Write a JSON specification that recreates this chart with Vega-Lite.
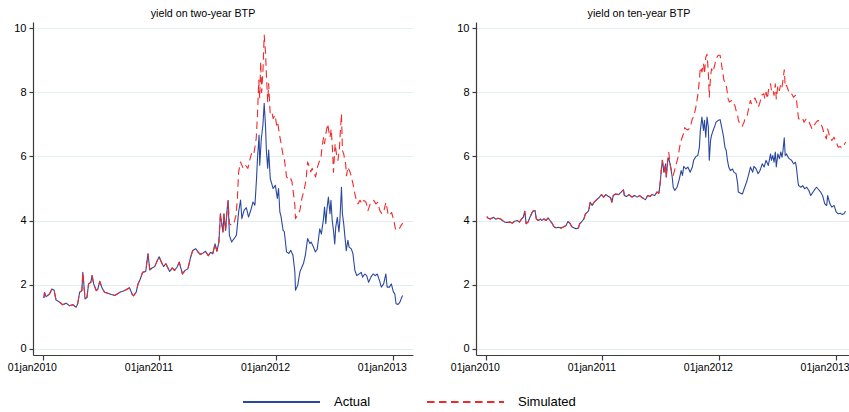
{
  "$schema": "https://vega.github.io/schema/vega-lite/v6.json",
  "background": "white",
  "padding": {"left": 7, "top": 8, "right": 0, "bottom": 0},
  "config": {
    "view": {"stroke": null},
    "font": "Liberation Sans",
    "concat": {"spacing": 37},
    "axis": {"domainColor": "#3c3c3c", "domainWidth": 1.2, "tickColor": "#3c3c3c", "tickWidth": 1.2, "labelColor": "#000000", "labelFont": "Liberation Sans", "title": null},
    "axisY": {"grid": true, "gridColor": "#e4eef0", "gridWidth": 1, "tickSize": 4, "labelPadding": 3, "labelFontSize": 11},
    "axisX": {"grid": false, "tickSize": 5, "labelPadding": 2, "labelFontSize": 10.5, "labelFlush": false, "labelOverlap": false},
    "legend": {"symbolType": "stroke", "symbolSize": 5929, "symbolStrokeWidth": 1.8, "labelFontSize": 13, "labelFont": "Liberation Sans", "labelColor": "#000000", "labelOffset": 13, "columnPadding": 55, "padding": 0, "clipHeight": 16},
    "title": {"fontSize": 10.7, "fontWeight": "normal", "font": "Liberation Sans", "color": "#000000", "offset": 2}
  },
  "datasets": {
    "two": [
      {"d":"2010-01-04","s":"Actual","y":1.58},{"d":"2010-01-06","s":"Actual","y":1.75},{"d":"2010-01-11","s":"Actual","y":1.62},{"d":"2010-01-22","s":"Actual","y":1.71},{"d":"2010-01-29","s":"Actual","y":1.86},{"d":"2010-02-05","s":"Actual","y":1.83},{"d":"2010-02-11","s":"Actual","y":1.52},{"d":"2010-02-22","s":"Actual","y":1.45},{"d":"2010-03-04","s":"Actual","y":1.37},{"d":"2010-03-15","s":"Actual","y":1.42},{"d":"2010-03-25","s":"Actual","y":1.34},{"d":"2010-04-05","s":"Actual","y":1.37},{"d":"2010-04-15","s":"Actual","y":1.29},{"d":"2010-04-20","s":"Actual","y":1.40},{"d":"2010-04-26","s":"Actual","y":1.76},{"d":"2010-05-03","s":"Actual","y":1.81},{"d":"2010-05-06","s":"Actual","y":2.38},{"d":"2010-05-10","s":"Actual","y":1.92},{"d":"2010-05-13","s":"Actual","y":1.55},{"d":"2010-05-19","s":"Actual","y":1.60},{"d":"2010-05-24","s":"Actual","y":2.02},{"d":"2010-05-31","s":"Actual","y":2.07},{"d":"2010-06-04","s":"Actual","y":2.28},{"d":"2010-06-09","s":"Actual","y":2.02},{"d":"2010-06-17","s":"Actual","y":1.81},{"d":"2010-06-22","s":"Actual","y":1.86},{"d":"2010-06-28","s":"Actual","y":2.10},{"d":"2010-07-05","s":"Actual","y":1.90},{"d":"2010-07-13","s":"Actual","y":1.76},{"d":"2010-07-23","s":"Actual","y":1.73},{"d":"2010-08-03","s":"Actual","y":1.69},{"d":"2010-08-13","s":"Actual","y":1.66},{"d":"2010-08-23","s":"Actual","y":1.71},{"d":"2010-08-30","s":"Actual","y":1.76},{"d":"2010-09-08","s":"Actual","y":1.79},{"d":"2010-09-17","s":"Actual","y":1.83},{"d":"2010-09-29","s":"Actual","y":1.90},{"d":"2010-10-08","s":"Actual","y":1.69},{"d":"2010-10-12","s":"Actual","y":1.65},{"d":"2010-10-20","s":"Actual","y":1.76},{"d":"2010-10-26","s":"Actual","y":2.02},{"d":"2010-11-02","s":"Actual","y":2.17},{"d":"2010-11-09","s":"Actual","y":2.38},{"d":"2010-11-19","s":"Actual","y":2.41},{"d":"2010-11-26","s":"Actual","y":2.96},{"d":"2010-12-02","s":"Actual","y":2.46},{"d":"2010-12-09","s":"Actual","y":2.52},{"d":"2010-12-17","s":"Actual","y":2.56},{"d":"2010-12-23","s":"Actual","y":2.70},{"d":"2010-12-31","s":"Actual","y":2.87},{"d":"2011-01-07","s":"Actual","y":2.70},{"d":"2011-01-14","s":"Actual","y":2.56},{"d":"2011-01-21","s":"Actual","y":2.65},{"d":"2011-02-02","s":"Actual","y":2.41},{"d":"2011-02-10","s":"Actual","y":2.52},{"d":"2011-02-17","s":"Actual","y":2.44},{"d":"2011-02-25","s":"Actual","y":2.54},{"d":"2011-03-04","s":"Actual","y":2.70},{"d":"2011-03-14","s":"Actual","y":2.33},{"d":"2011-03-22","s":"Actual","y":2.44},{"d":"2011-03-31","s":"Actual","y":2.49},{"d":"2011-04-08","s":"Actual","y":2.83},{"d":"2011-04-15","s":"Actual","y":3.06},{"d":"2011-04-25","s":"Actual","y":3.12},{"d":"2011-05-02","s":"Actual","y":3.01},{"d":"2011-05-09","s":"Actual","y":2.94},{"d":"2011-05-17","s":"Actual","y":2.98},{"d":"2011-05-25","s":"Actual","y":3.04},{"d":"2011-06-03","s":"Actual","y":2.90},{"d":"2011-06-10","s":"Actual","y":3.01},{"d":"2011-06-17","s":"Actual","y":2.96},{"d":"2011-06-24","s":"Actual","y":3.27},{"d":"2011-06-30","s":"Actual","y":3.04},{"d":"2011-07-06","s":"Actual","y":3.32},{"d":"2011-07-11","s":"Actual","y":4.21},{"d":"2011-07-15","s":"Actual","y":3.90},{"d":"2011-07-19","s":"Actual","y":3.64},{"d":"2011-07-22","s":"Actual","y":4.21},{"d":"2011-07-27","s":"Actual","y":3.69},{"d":"2011-08-01","s":"Actual","y":4.36},{"d":"2011-08-04","s":"Actual","y":4.62},
      {"d":"2011-08-08","s":"Actual","y":3.54},{"d":"2011-08-15","s":"Actual","y":3.33},{"d":"2011-08-23","s":"Actual","y":3.44},{"d":"2011-08-30","s":"Actual","y":3.54},{"d":"2011-09-06","s":"Actual","y":4.27},{"d":"2011-09-12","s":"Actual","y":4.64},{"d":"2011-09-16","s":"Actual","y":4.06},{"d":"2011-09-23","s":"Actual","y":4.32},{"d":"2011-09-30","s":"Actual","y":4.40},{"d":"2011-10-07","s":"Actual","y":4.11},{"d":"2011-10-14","s":"Actual","y":4.32},{"d":"2011-10-21","s":"Actual","y":4.58},{"d":"2011-10-27","s":"Actual","y":4.48},{"d":"2011-11-01","s":"Actual","y":5.31},{"d":"2011-11-04","s":"Actual","y":5.94},{"d":"2011-11-09","s":"Actual","y":6.67},{"d":"2011-11-11","s":"Actual","y":5.73},{"d":"2011-11-16","s":"Actual","y":6.56},{"d":"2011-11-21","s":"Actual","y":6.98},{"d":"2011-11-25","s":"Actual","y":7.66},{"d":"2011-11-29","s":"Actual","y":6.98},{"d":"2011-12-02","s":"Actual","y":6.15},{"d":"2011-12-06","s":"Actual","y":5.63},{"d":"2011-12-09","s":"Actual","y":6.20},{"d":"2011-12-14","s":"Actual","y":5.31},{"d":"2011-12-20","s":"Actual","y":5.10},{"d":"2011-12-23","s":"Actual","y":5.00},{"d":"2011-12-30","s":"Actual","y":5.10},{"d":"2012-01-05","s":"Actual","y":4.69},{"d":"2012-01-09","s":"Actual","y":5.00},{"d":"2012-01-13","s":"Actual","y":4.27},{"d":"2012-01-17","s":"Actual","y":4.11},{"d":"2012-01-23","s":"Actual","y":3.70},{"d":"2012-01-27","s":"Actual","y":3.65},{"d":"2012-02-03","s":"Actual","y":3.02},{"d":"2012-02-10","s":"Actual","y":2.97},{"d":"2012-02-16","s":"Actual","y":3.07},{"d":"2012-02-23","s":"Actual","y":2.92},{"d":"2012-02-29","s":"Actual","y":2.40},{"d":"2012-03-02","s":"Actual","y":1.82},{"d":"2012-03-09","s":"Actual","y":1.98},{"d":"2012-03-16","s":"Actual","y":2.40},{"d":"2012-03-27","s":"Actual","y":2.66},{"d":"2012-04-02","s":"Actual","y":2.92},{"d":"2012-04-09","s":"Actual","y":3.44},{"d":"2012-04-16","s":"Actual","y":3.28},{"d":"2012-04-20","s":"Actual","y":3.33},{"d":"2012-04-27","s":"Actual","y":3.18},{"d":"2012-05-03","s":"Actual","y":3.02},{"d":"2012-05-09","s":"Actual","y":3.10},{"d":"2012-05-17","s":"Actual","y":3.74},{"d":"2012-05-22","s":"Actual","y":3.58},{"d":"2012-05-28","s":"Actual","y":4.00},{"d":"2012-06-01","s":"Actual","y":4.42},{"d":"2012-06-05","s":"Actual","y":3.90},{"d":"2012-06-08","s":"Actual","y":4.31},{"d":"2012-06-13","s":"Actual","y":4.73},{"d":"2012-06-18","s":"Actual","y":4.21},{"d":"2012-06-21","s":"Actual","y":4.63},{"d":"2012-06-25","s":"Actual","y":4.00},{"d":"2012-06-29","s":"Actual","y":3.69},{"d":"2012-07-03","s":"Actual","y":3.27},{"d":"2012-07-06","s":"Actual","y":3.79},{"d":"2012-07-11","s":"Actual","y":4.10},{"d":"2012-07-16","s":"Actual","y":3.64},{"d":"2012-07-19","s":"Actual","y":4.00},{"d":"2012-07-24","s":"Actual","y":5.04},{"d":"2012-07-27","s":"Actual","y":4.21},{"d":"2012-07-31","s":"Actual","y":3.90},{"d":"2012-08-03","s":"Actual","y":3.58},{"d":"2012-08-08","s":"Actual","y":3.06},{"d":"2012-08-13","s":"Actual","y":3.38},{"d":"2012-08-17","s":"Actual","y":3.17},{"d":"2012-08-24","s":"Actual","y":3.11},{"d":"2012-08-29","s":"Actual","y":2.96},{"d":"2012-09-04","s":"Actual","y":2.44},{"d":"2012-09-10","s":"Actual","y":2.28},{"d":"2012-09-17","s":"Actual","y":2.33},{"d":"2012-09-24","s":"Actual","y":2.38},{"d":"2012-09-28","s":"Actual","y":2.23},{"d":"2012-10-05","s":"Actual","y":2.33},{"d":"2012-10-11","s":"Actual","y":2.28},{"d":"2012-10-17","s":"Actual","y":2.07},{"d":"2012-10-24","s":"Actual","y":2.23},{"d":"2012-10-31","s":"Actual","y":2.33},{"d":"2012-11-07","s":"Actual","y":2.28},{"d":"2012-11-13","s":"Actual","y":2.33},{"d":"2012-11-20","s":"Actual","y":2.13},{"d":"2012-11-26","s":"Actual","y":1.92},{"d":"2012-12-03","s":"Actual","y":2.02},{"d":"2012-12-10","s":"Actual","y":2.33},{"d":"2012-12-14","s":"Actual","y":1.92},{"d":"2012-12-21","s":"Actual","y":1.92},{"d":"2012-12-27","s":"Actual","y":2.02},{"d":"2013-01-03","s":"Actual","y":1.76},{"d":"2013-01-07","s":"Actual","y":1.71},{"d":"2013-01-11","s":"Actual","y":1.40},{"d":"2013-01-17","s":"Actual","y":1.38},{"d":"2013-01-23","s":"Actual","y":1.45},{"d":"2013-01-29","s":"Actual","y":1.61},{"d":"2013-02-01","s":"Actual","y":1.66},
      {"d":"2010-01-04","s":"Simulated","y":1.58},{"d":"2010-01-06","s":"Simulated","y":1.75},{"d":"2010-01-11","s":"Simulated","y":1.62},{"d":"2010-01-22","s":"Simulated","y":1.71},{"d":"2010-01-29","s":"Simulated","y":1.86},{"d":"2010-02-05","s":"Simulated","y":1.83},{"d":"2010-02-11","s":"Simulated","y":1.52},{"d":"2010-02-22","s":"Simulated","y":1.45},{"d":"2010-03-04","s":"Simulated","y":1.37},{"d":"2010-03-15","s":"Simulated","y":1.42},{"d":"2010-03-25","s":"Simulated","y":1.34},{"d":"2010-04-05","s":"Simulated","y":1.37},{"d":"2010-04-15","s":"Simulated","y":1.29},{"d":"2010-04-20","s":"Simulated","y":1.40},{"d":"2010-04-26","s":"Simulated","y":1.76},{"d":"2010-05-03","s":"Simulated","y":1.81},{"d":"2010-05-06","s":"Simulated","y":2.38},{"d":"2010-05-10","s":"Simulated","y":1.92},{"d":"2010-05-13","s":"Simulated","y":1.55},{"d":"2010-05-19","s":"Simulated","y":1.60},{"d":"2010-05-24","s":"Simulated","y":2.02},{"d":"2010-05-31","s":"Simulated","y":2.07},{"d":"2010-06-04","s":"Simulated","y":2.28},{"d":"2010-06-09","s":"Simulated","y":2.02},{"d":"2010-06-17","s":"Simulated","y":1.81},{"d":"2010-06-22","s":"Simulated","y":1.86},{"d":"2010-06-28","s":"Simulated","y":2.10},{"d":"2010-07-05","s":"Simulated","y":1.90},{"d":"2010-07-13","s":"Simulated","y":1.76},{"d":"2010-07-23","s":"Simulated","y":1.73},{"d":"2010-08-03","s":"Simulated","y":1.69},{"d":"2010-08-13","s":"Simulated","y":1.66},{"d":"2010-08-23","s":"Simulated","y":1.71},{"d":"2010-08-30","s":"Simulated","y":1.76},{"d":"2010-09-08","s":"Simulated","y":1.79},{"d":"2010-09-17","s":"Simulated","y":1.83},{"d":"2010-09-29","s":"Simulated","y":1.90},{"d":"2010-10-08","s":"Simulated","y":1.69},{"d":"2010-10-12","s":"Simulated","y":1.65},{"d":"2010-10-20","s":"Simulated","y":1.76},{"d":"2010-10-26","s":"Simulated","y":2.02},{"d":"2010-11-02","s":"Simulated","y":2.17},{"d":"2010-11-09","s":"Simulated","y":2.38},{"d":"2010-11-19","s":"Simulated","y":2.41},{"d":"2010-11-26","s":"Simulated","y":2.96},{"d":"2010-12-02","s":"Simulated","y":2.46},{"d":"2010-12-09","s":"Simulated","y":2.52},{"d":"2010-12-17","s":"Simulated","y":2.56},{"d":"2010-12-23","s":"Simulated","y":2.70},{"d":"2010-12-31","s":"Simulated","y":2.87},{"d":"2011-01-07","s":"Simulated","y":2.70},{"d":"2011-01-14","s":"Simulated","y":2.56},{"d":"2011-01-21","s":"Simulated","y":2.65},{"d":"2011-02-02","s":"Simulated","y":2.41},{"d":"2011-02-10","s":"Simulated","y":2.52},{"d":"2011-02-17","s":"Simulated","y":2.44},{"d":"2011-02-25","s":"Simulated","y":2.54},{"d":"2011-03-04","s":"Simulated","y":2.70},{"d":"2011-03-14","s":"Simulated","y":2.33},{"d":"2011-03-22","s":"Simulated","y":2.44},{"d":"2011-03-31","s":"Simulated","y":2.49},{"d":"2011-04-08","s":"Simulated","y":2.83},{"d":"2011-04-15","s":"Simulated","y":3.06},{"d":"2011-04-25","s":"Simulated","y":3.12},{"d":"2011-05-02","s":"Simulated","y":3.01},{"d":"2011-05-09","s":"Simulated","y":2.94},{"d":"2011-05-17","s":"Simulated","y":2.98},{"d":"2011-05-25","s":"Simulated","y":3.04},{"d":"2011-06-03","s":"Simulated","y":2.90},{"d":"2011-06-10","s":"Simulated","y":3.01},{"d":"2011-06-17","s":"Simulated","y":2.96},{"d":"2011-06-24","s":"Simulated","y":3.27},{"d":"2011-06-30","s":"Simulated","y":3.04},{"d":"2011-07-06","s":"Simulated","y":3.32},{"d":"2011-07-11","s":"Simulated","y":4.21},{"d":"2011-07-15","s":"Simulated","y":3.90},{"d":"2011-07-19","s":"Simulated","y":3.64},{"d":"2011-07-22","s":"Simulated","y":4.21},{"d":"2011-07-27","s":"Simulated","y":3.69},{"d":"2011-08-01","s":"Simulated","y":4.36},{"d":"2011-08-04","s":"Simulated","y":4.62},
      {"d":"2011-08-08","s":"Simulated","y":3.90},{"d":"2011-08-15","s":"Simulated","y":3.85},{"d":"2011-08-22","s":"Simulated","y":3.90},{"d":"2011-08-29","s":"Simulated","y":4.17},{"d":"2011-09-02","s":"Simulated","y":4.69},{"d":"2011-09-06","s":"Simulated","y":5.52},{"d":"2011-09-12","s":"Simulated","y":5.83},{"d":"2011-09-20","s":"Simulated","y":5.63},{"d":"2011-09-27","s":"Simulated","y":5.73},{"d":"2011-10-05","s":"Simulated","y":5.63},{"d":"2011-10-12","s":"Simulated","y":5.94},{"d":"2011-10-18","s":"Simulated","y":6.15},{"d":"2011-10-24","s":"Simulated","y":6.10},{"d":"2011-10-31","s":"Simulated","y":6.56},{"d":"2011-11-04","s":"Simulated","y":7.29},{"d":"2011-11-08","s":"Simulated","y":8.39},{"d":"2011-11-11","s":"Simulated","y":7.81},{"d":"2011-11-14","s":"Simulated","y":8.96},{"d":"2011-11-17","s":"Simulated","y":8.00},{"d":"2011-11-21","s":"Simulated","y":8.65},{"d":"2011-11-25","s":"Simulated","y":9.79},{"d":"2011-11-29","s":"Simulated","y":9.27},{"d":"2011-12-02","s":"Simulated","y":8.54},{"d":"2011-12-06","s":"Simulated","y":7.71},{"d":"2011-12-09","s":"Simulated","y":8.28},{"d":"2011-12-14","s":"Simulated","y":7.29},{"d":"2011-12-20","s":"Simulated","y":7.34},{"d":"2011-12-23","s":"Simulated","y":7.19},{"d":"2011-12-29","s":"Simulated","y":7.29},{"d":"2012-01-03","s":"Simulated","y":6.98},{"d":"2012-01-06","s":"Simulated","y":7.08},{"d":"2012-01-12","s":"Simulated","y":6.67},{"d":"2012-01-17","s":"Simulated","y":6.41},{"d":"2012-01-23","s":"Simulated","y":6.04},{"d":"2012-01-27","s":"Simulated","y":5.94},{"d":"2012-02-03","s":"Simulated","y":5.36},{"d":"2012-02-08","s":"Simulated","y":5.31},{"d":"2012-02-14","s":"Simulated","y":5.36},{"d":"2012-02-20","s":"Simulated","y":5.21},{"d":"2012-02-24","s":"Simulated","y":4.90},{"d":"2012-02-29","s":"Simulated","y":4.48},{"d":"2012-03-02","s":"Simulated","y":4.06},{"d":"2012-03-09","s":"Simulated","y":4.17},{"d":"2012-03-16","s":"Simulated","y":4.32},{"d":"2012-03-22","s":"Simulated","y":4.69},{"d":"2012-03-29","s":"Simulated","y":4.95},{"d":"2012-04-04","s":"Simulated","y":5.26},{"d":"2012-04-09","s":"Simulated","y":5.83},{"d":"2012-04-16","s":"Simulated","y":5.63},{"d":"2012-04-19","s":"Simulated","y":5.52},{"d":"2012-04-23","s":"Simulated","y":5.63},{"d":"2012-04-30","s":"Simulated","y":5.47},{"d":"2012-05-04","s":"Simulated","y":5.36},{"d":"2012-05-10","s":"Simulated","y":5.67},{"d":"2012-05-15","s":"Simulated","y":5.83},{"d":"2012-05-21","s":"Simulated","y":5.98},{"d":"2012-05-24","s":"Simulated","y":6.29},{"d":"2012-05-29","s":"Simulated","y":6.60},{"d":"2012-06-01","s":"Simulated","y":6.40},{"d":"2012-06-06","s":"Simulated","y":6.76},{"d":"2012-06-11","s":"Simulated","y":7.02},{"d":"2012-06-14","s":"Simulated","y":6.81},{"d":"2012-06-18","s":"Simulated","y":6.60},{"d":"2012-06-22","s":"Simulated","y":6.86},{"d":"2012-06-26","s":"Simulated","y":6.19},{"d":"2012-06-29","s":"Simulated","y":5.51},{"d":"2012-07-04","s":"Simulated","y":6.40},{"d":"2012-07-09","s":"Simulated","y":6.03},{"d":"2012-07-13","s":"Simulated","y":5.88},{"d":"2012-07-18","s":"Simulated","y":6.29},{"d":"2012-07-20","s":"Simulated","y":6.71},{"d":"2012-07-24","s":"Simulated","y":7.33},{"d":"2012-07-27","s":"Simulated","y":6.19},{"d":"2012-07-31","s":"Simulated","y":6.08},{"d":"2012-08-06","s":"Simulated","y":5.77},{"d":"2012-08-09","s":"Simulated","y":5.40},{"d":"2012-08-13","s":"Simulated","y":5.67},{"d":"2012-08-20","s":"Simulated","y":5.51},{"d":"2012-08-24","s":"Simulated","y":5.36},{"d":"2012-08-29","s":"Simulated","y":5.15},{"d":"2012-09-04","s":"Simulated","y":4.83},{"d":"2012-09-10","s":"Simulated","y":4.57},{"d":"2012-09-14","s":"Simulated","y":4.52},{"d":"2012-09-20","s":"Simulated","y":4.63},{"d":"2012-09-26","s":"Simulated","y":4.52},{"d":"2012-10-02","s":"Simulated","y":4.63},{"d":"2012-10-09","s":"Simulated","y":4.57},{"d":"2012-10-15","s":"Simulated","y":4.31},{"d":"2012-10-22","s":"Simulated","y":4.52},{"d":"2012-10-29","s":"Simulated","y":4.57},{"d":"2012-11-02","s":"Simulated","y":4.63},{"d":"2012-11-09","s":"Simulated","y":4.52},{"d":"2012-11-15","s":"Simulated","y":4.57},{"d":"2012-11-21","s":"Simulated","y":4.31},{"d":"2012-11-28","s":"Simulated","y":4.21},{"d":"2012-12-04","s":"Simulated","y":4.31},{"d":"2012-12-10","s":"Simulated","y":4.57},{"d":"2012-12-17","s":"Simulated","y":4.21},{"d":"2012-12-21","s":"Simulated","y":4.15},{"d":"2012-12-28","s":"Simulated","y":4.25},{"d":"2013-01-04","s":"Simulated","y":4.00},{"d":"2013-01-09","s":"Simulated","y":3.74},{"d":"2013-01-15","s":"Simulated","y":3.69},{"d":"2013-01-21","s":"Simulated","y":3.74},{"d":"2013-01-27","s":"Simulated","y":3.85},{"d":"2013-02-01","s":"Simulated","y":3.92}
    ],
    "ten": [
      {"d":"2010-01-04","s":"Actual","y":4.12},{"d":"2010-01-08","s":"Actual","y":4.07},{"d":"2010-01-15","s":"Actual","y":4.05},{"d":"2010-01-25","s":"Actual","y":4.10},{"d":"2010-02-01","s":"Actual","y":4.04},{"d":"2010-02-08","s":"Actual","y":4.07},{"d":"2010-02-16","s":"Actual","y":4.05},{"d":"2010-02-22","s":"Actual","y":4.00},{"d":"2010-03-01","s":"Actual","y":3.95},{"d":"2010-03-09","s":"Actual","y":3.94},{"d":"2010-03-17","s":"Actual","y":3.95},{"d":"2010-03-25","s":"Actual","y":3.92},{"d":"2010-04-01","s":"Actual","y":3.98},{"d":"2010-04-09","s":"Actual","y":4.00},{"d":"2010-04-16","s":"Actual","y":3.95},{"d":"2010-04-23","s":"Actual","y":4.05},{"d":"2010-04-28","s":"Actual","y":4.10},{"d":"2010-05-03","s":"Actual","y":4.29},{"d":"2010-05-07","s":"Actual","y":3.90},{"d":"2010-05-13","s":"Actual","y":3.95},{"d":"2010-05-19","s":"Actual","y":4.10},{"d":"2010-05-24","s":"Actual","y":4.21},{"d":"2010-05-28","s":"Actual","y":4.29},{"d":"2010-06-04","s":"Actual","y":4.31},{"d":"2010-06-08","s":"Actual","y":4.05},{"d":"2010-06-14","s":"Actual","y":4.00},{"d":"2010-06-21","s":"Actual","y":4.05},{"d":"2010-06-25","s":"Actual","y":4.00},{"d":"2010-07-02","s":"Actual","y":4.05},{"d":"2010-07-08","s":"Actual","y":4.00},{"d":"2010-07-15","s":"Actual","y":4.08},{"d":"2010-07-21","s":"Actual","y":4.00},{"d":"2010-07-27","s":"Actual","y":3.92},{"d":"2010-08-02","s":"Actual","y":3.81},{"d":"2010-08-09","s":"Actual","y":3.77},{"d":"2010-08-16","s":"Actual","y":3.79},{"d":"2010-08-23","s":"Actual","y":3.77},{"d":"2010-08-27","s":"Actual","y":3.77},{"d":"2010-09-03","s":"Actual","y":3.81},{"d":"2010-09-09","s":"Actual","y":3.84},{"d":"2010-09-15","s":"Actual","y":3.97},{"d":"2010-09-21","s":"Actual","y":3.92},{"d":"2010-09-27","s":"Actual","y":3.81},{"d":"2010-10-04","s":"Actual","y":3.77},{"d":"2010-10-11","s":"Actual","y":3.74},{"d":"2010-10-18","s":"Actual","y":3.77},{"d":"2010-10-22","s":"Actual","y":3.90},{"d":"2010-10-29","s":"Actual","y":3.97},{"d":"2010-11-04","s":"Actual","y":4.05},{"d":"2010-11-09","s":"Actual","y":4.21},{"d":"2010-11-15","s":"Actual","y":4.26},{"d":"2010-11-19","s":"Actual","y":4.31},{"d":"2010-11-24","s":"Actual","y":4.57},{"d":"2010-11-30","s":"Actual","y":4.47},{"d":"2010-12-06","s":"Actual","y":4.57},{"d":"2010-12-14","s":"Actual","y":4.65},{"d":"2010-12-21","s":"Actual","y":4.71},{"d":"2010-12-29","s":"Actual","y":4.81},{"d":"2011-01-05","s":"Actual","y":4.73},{"d":"2011-01-12","s":"Actual","y":4.81},{"d":"2011-01-20","s":"Actual","y":4.75},{"d":"2011-01-27","s":"Actual","y":4.71},{"d":"2011-01-31","s":"Actual","y":4.57},{"d":"2011-02-04","s":"Actual","y":4.78},{"d":"2011-02-11","s":"Actual","y":4.83},{"d":"2011-02-21","s":"Actual","y":4.81},{"d":"2011-03-01","s":"Actual","y":4.89},{"d":"2011-03-08","s":"Actual","y":4.96},{"d":"2011-03-11","s":"Actual","y":4.78},{"d":"2011-03-18","s":"Actual","y":4.75},{"d":"2011-03-25","s":"Actual","y":4.81},{"d":"2011-04-04","s":"Actual","y":4.73},{"d":"2011-04-12","s":"Actual","y":4.78},{"d":"2011-04-20","s":"Actual","y":4.73},{"d":"2011-04-28","s":"Actual","y":4.78},{"d":"2011-05-06","s":"Actual","y":4.71},{"d":"2011-05-16","s":"Actual","y":4.65},{"d":"2011-05-23","s":"Actual","y":4.78},{"d":"2011-05-30","s":"Actual","y":4.75},{"d":"2011-06-06","s":"Actual","y":4.81},{"d":"2011-06-14","s":"Actual","y":4.78},{"d":"2011-06-21","s":"Actual","y":4.89},{"d":"2011-06-27","s":"Actual","y":4.85},{"d":"2011-07-01","s":"Actual","y":5.15},{"d":"2011-07-05","s":"Actual","y":5.61},{"d":"2011-07-08","s":"Actual","y":5.88},{"d":"2011-07-13","s":"Actual","y":5.51},{"d":"2011-07-18","s":"Actual","y":5.77},{"d":"2011-07-20","s":"Actual","y":5.35},{"d":"2011-07-25","s":"Actual","y":5.88},{"d":"2011-07-28","s":"Actual","y":5.95},{"d":"2011-08-02","s":"Actual","y":5.72},
      {"d":"2011-08-08","s":"Actual","y":5.35},{"d":"2011-08-11","s":"Actual","y":5.04},{"d":"2011-08-16","s":"Actual","y":4.94},{"d":"2011-08-23","s":"Actual","y":5.04},{"d":"2011-08-29","s":"Actual","y":5.25},{"d":"2011-09-05","s":"Actual","y":5.56},{"d":"2011-09-09","s":"Actual","y":5.41},{"d":"2011-09-13","s":"Actual","y":5.69},{"d":"2011-09-20","s":"Actual","y":5.61},{"d":"2011-09-26","s":"Actual","y":5.67},{"d":"2011-10-03","s":"Actual","y":5.51},{"d":"2011-10-10","s":"Actual","y":5.67},{"d":"2011-10-14","s":"Actual","y":5.88},{"d":"2011-10-21","s":"Actual","y":6.00},{"d":"2011-10-27","s":"Actual","y":6.03},{"d":"2011-11-01","s":"Actual","y":6.29},{"d":"2011-11-04","s":"Actual","y":6.81},{"d":"2011-11-09","s":"Actual","y":7.23},{"d":"2011-11-14","s":"Actual","y":6.81},{"d":"2011-11-17","s":"Actual","y":7.13},{"d":"2011-11-21","s":"Actual","y":6.60},{"d":"2011-11-25","s":"Actual","y":7.23},{"d":"2011-11-29","s":"Actual","y":6.92},{"d":"2011-12-02","s":"Actual","y":5.88},{"d":"2011-12-06","s":"Actual","y":6.50},{"d":"2011-12-09","s":"Actual","y":6.66},{"d":"2011-12-14","s":"Actual","y":6.81},{"d":"2011-12-20","s":"Actual","y":6.97},{"d":"2011-12-23","s":"Actual","y":7.07},{"d":"2011-12-30","s":"Actual","y":7.13},{"d":"2012-01-05","s":"Actual","y":7.15},{"d":"2012-01-12","s":"Actual","y":6.81},{"d":"2012-01-16","s":"Actual","y":6.60},{"d":"2012-01-20","s":"Actual","y":6.29},{"d":"2012-01-24","s":"Actual","y":6.19},{"d":"2012-01-28","s":"Actual","y":5.88},{"d":"2012-02-01","s":"Actual","y":5.67},{"d":"2012-02-06","s":"Actual","y":5.56},{"d":"2012-02-13","s":"Actual","y":5.61},{"d":"2012-02-17","s":"Actual","y":5.51},{"d":"2012-02-24","s":"Actual","y":5.46},{"d":"2012-02-29","s":"Actual","y":5.15},{"d":"2012-03-02","s":"Actual","y":4.89},{"d":"2012-03-09","s":"Actual","y":4.85},{"d":"2012-03-15","s":"Actual","y":4.83},{"d":"2012-03-22","s":"Actual","y":5.04},{"d":"2012-03-28","s":"Actual","y":5.20},{"d":"2012-04-04","s":"Actual","y":5.46},{"d":"2012-04-09","s":"Actual","y":5.67},{"d":"2012-04-16","s":"Actual","y":5.51},{"d":"2012-04-20","s":"Actual","y":5.69},{"d":"2012-04-27","s":"Actual","y":5.61},{"d":"2012-05-03","s":"Actual","y":5.46},{"d":"2012-05-09","s":"Actual","y":5.56},{"d":"2012-05-16","s":"Actual","y":5.77},{"d":"2012-05-22","s":"Actual","y":5.67},{"d":"2012-05-28","s":"Actual","y":5.88},{"d":"2012-06-04","s":"Actual","y":5.72},{"d":"2012-06-11","s":"Actual","y":6.08},{"d":"2012-06-14","s":"Actual","y":5.88},{"d":"2012-06-18","s":"Actual","y":6.03},{"d":"2012-06-22","s":"Actual","y":5.82},{"d":"2012-06-26","s":"Actual","y":6.14},{"d":"2012-06-29","s":"Actual","y":5.67},{"d":"2012-07-04","s":"Actual","y":6.08},{"d":"2012-07-09","s":"Actual","y":5.93},{"d":"2012-07-13","s":"Actual","y":6.14},{"d":"2012-07-17","s":"Actual","y":5.98},{"d":"2012-07-20","s":"Actual","y":6.19},{"d":"2012-07-24","s":"Actual","y":6.58},{"d":"2012-07-27","s":"Actual","y":6.03},{"d":"2012-07-31","s":"Actual","y":6.08},{"d":"2012-08-06","s":"Actual","y":5.96},{"d":"2012-08-09","s":"Actual","y":5.93},{"d":"2012-08-16","s":"Actual","y":5.88},{"d":"2012-08-22","s":"Actual","y":5.77},{"d":"2012-08-28","s":"Actual","y":5.82},{"d":"2012-08-31","s":"Actual","y":5.67},{"d":"2012-09-05","s":"Actual","y":5.20},{"d":"2012-09-07","s":"Actual","y":5.09},{"d":"2012-09-14","s":"Actual","y":5.04},{"d":"2012-09-20","s":"Actual","y":5.09},{"d":"2012-09-26","s":"Actual","y":4.99},{"d":"2012-10-02","s":"Actual","y":5.04},{"d":"2012-10-09","s":"Actual","y":4.94},{"d":"2012-10-15","s":"Actual","y":4.78},{"d":"2012-10-22","s":"Actual","y":4.89},{"d":"2012-10-29","s":"Actual","y":4.99},{"d":"2012-11-02","s":"Actual","y":5.04},{"d":"2012-11-09","s":"Actual","y":4.96},{"d":"2012-11-15","s":"Actual","y":4.89},{"d":"2012-11-21","s":"Actual","y":4.78},{"d":"2012-11-28","s":"Actual","y":4.52},{"d":"2012-12-04","s":"Actual","y":4.47},{"d":"2012-12-07","s":"Actual","y":4.78},{"d":"2012-12-14","s":"Actual","y":4.52},{"d":"2012-12-20","s":"Actual","y":4.42},{"d":"2012-12-27","s":"Actual","y":4.47},{"d":"2013-01-03","s":"Actual","y":4.26},{"d":"2013-01-09","s":"Actual","y":4.21},{"d":"2013-01-15","s":"Actual","y":4.23},{"d":"2013-01-21","s":"Actual","y":4.19},{"d":"2013-01-27","s":"Actual","y":4.21},{"d":"2013-02-01","s":"Actual","y":4.29},
      {"d":"2010-01-04","s":"Simulated","y":4.12},{"d":"2010-01-08","s":"Simulated","y":4.07},{"d":"2010-01-15","s":"Simulated","y":4.05},{"d":"2010-01-25","s":"Simulated","y":4.10},{"d":"2010-02-01","s":"Simulated","y":4.04},{"d":"2010-02-08","s":"Simulated","y":4.07},{"d":"2010-02-16","s":"Simulated","y":4.05},{"d":"2010-02-22","s":"Simulated","y":4.00},{"d":"2010-03-01","s":"Simulated","y":3.95},{"d":"2010-03-09","s":"Simulated","y":3.94},{"d":"2010-03-17","s":"Simulated","y":3.95},{"d":"2010-03-25","s":"Simulated","y":3.92},{"d":"2010-04-01","s":"Simulated","y":3.98},{"d":"2010-04-09","s":"Simulated","y":4.00},{"d":"2010-04-16","s":"Simulated","y":3.95},{"d":"2010-04-23","s":"Simulated","y":4.05},{"d":"2010-04-28","s":"Simulated","y":4.10},{"d":"2010-05-03","s":"Simulated","y":4.29},{"d":"2010-05-07","s":"Simulated","y":3.90},{"d":"2010-05-13","s":"Simulated","y":3.95},{"d":"2010-05-19","s":"Simulated","y":4.10},{"d":"2010-05-24","s":"Simulated","y":4.21},{"d":"2010-05-28","s":"Simulated","y":4.29},{"d":"2010-06-04","s":"Simulated","y":4.31},{"d":"2010-06-08","s":"Simulated","y":4.05},{"d":"2010-06-14","s":"Simulated","y":4.00},{"d":"2010-06-21","s":"Simulated","y":4.05},{"d":"2010-06-25","s":"Simulated","y":4.00},{"d":"2010-07-02","s":"Simulated","y":4.05},{"d":"2010-07-08","s":"Simulated","y":4.00},{"d":"2010-07-15","s":"Simulated","y":4.08},{"d":"2010-07-21","s":"Simulated","y":4.00},{"d":"2010-07-27","s":"Simulated","y":3.92},{"d":"2010-08-02","s":"Simulated","y":3.81},{"d":"2010-08-09","s":"Simulated","y":3.77},{"d":"2010-08-16","s":"Simulated","y":3.79},{"d":"2010-08-23","s":"Simulated","y":3.77},{"d":"2010-08-27","s":"Simulated","y":3.77},{"d":"2010-09-03","s":"Simulated","y":3.81},{"d":"2010-09-09","s":"Simulated","y":3.84},{"d":"2010-09-15","s":"Simulated","y":3.97},{"d":"2010-09-21","s":"Simulated","y":3.92},{"d":"2010-09-27","s":"Simulated","y":3.81},{"d":"2010-10-04","s":"Simulated","y":3.77},{"d":"2010-10-11","s":"Simulated","y":3.74},{"d":"2010-10-18","s":"Simulated","y":3.77},{"d":"2010-10-22","s":"Simulated","y":3.90},{"d":"2010-10-29","s":"Simulated","y":3.97},{"d":"2010-11-04","s":"Simulated","y":4.05},{"d":"2010-11-09","s":"Simulated","y":4.21},{"d":"2010-11-15","s":"Simulated","y":4.26},{"d":"2010-11-19","s":"Simulated","y":4.31},{"d":"2010-11-24","s":"Simulated","y":4.57},{"d":"2010-11-30","s":"Simulated","y":4.47},{"d":"2010-12-06","s":"Simulated","y":4.57},{"d":"2010-12-14","s":"Simulated","y":4.65},{"d":"2010-12-21","s":"Simulated","y":4.71},{"d":"2010-12-29","s":"Simulated","y":4.81},{"d":"2011-01-05","s":"Simulated","y":4.73},{"d":"2011-01-12","s":"Simulated","y":4.81},{"d":"2011-01-20","s":"Simulated","y":4.75},{"d":"2011-01-27","s":"Simulated","y":4.71},{"d":"2011-01-31","s":"Simulated","y":4.57},{"d":"2011-02-04","s":"Simulated","y":4.78},{"d":"2011-02-11","s":"Simulated","y":4.83},{"d":"2011-02-21","s":"Simulated","y":4.81},{"d":"2011-03-01","s":"Simulated","y":4.89},{"d":"2011-03-08","s":"Simulated","y":4.96},{"d":"2011-03-11","s":"Simulated","y":4.78},{"d":"2011-03-18","s":"Simulated","y":4.75},{"d":"2011-03-25","s":"Simulated","y":4.81},{"d":"2011-04-04","s":"Simulated","y":4.73},{"d":"2011-04-12","s":"Simulated","y":4.78},{"d":"2011-04-20","s":"Simulated","y":4.73},{"d":"2011-04-28","s":"Simulated","y":4.78},{"d":"2011-05-06","s":"Simulated","y":4.71},{"d":"2011-05-16","s":"Simulated","y":4.65},{"d":"2011-05-23","s":"Simulated","y":4.78},{"d":"2011-05-30","s":"Simulated","y":4.75},{"d":"2011-06-06","s":"Simulated","y":4.81},{"d":"2011-06-14","s":"Simulated","y":4.78},{"d":"2011-06-21","s":"Simulated","y":4.89},{"d":"2011-06-27","s":"Simulated","y":4.85},{"d":"2011-07-01","s":"Simulated","y":5.15},{"d":"2011-07-05","s":"Simulated","y":5.61},{"d":"2011-07-08","s":"Simulated","y":5.88},{"d":"2011-07-13","s":"Simulated","y":5.51},{"d":"2011-07-18","s":"Simulated","y":5.77},{"d":"2011-07-20","s":"Simulated","y":5.35},{"d":"2011-07-25","s":"Simulated","y":5.93},{"d":"2011-07-28","s":"Simulated","y":6.13},{"d":"2011-08-02","s":"Simulated","y":5.72},
      {"d":"2011-08-08","s":"Simulated","y":5.46},{"d":"2011-08-11","s":"Simulated","y":5.41},{"d":"2011-08-18","s":"Simulated","y":5.67},{"d":"2011-08-25","s":"Simulated","y":5.93},{"d":"2011-09-01","s":"Simulated","y":6.34},{"d":"2011-09-05","s":"Simulated","y":6.50},{"d":"2011-09-12","s":"Simulated","y":6.71},{"d":"2011-09-16","s":"Simulated","y":6.90},{"d":"2011-09-20","s":"Simulated","y":6.86},{"d":"2011-09-26","s":"Simulated","y":6.83},{"d":"2011-10-03","s":"Simulated","y":6.90},{"d":"2011-10-10","s":"Simulated","y":7.18},{"d":"2011-10-14","s":"Simulated","y":7.23},{"d":"2011-10-21","s":"Simulated","y":7.54},{"d":"2011-10-27","s":"Simulated","y":7.91},{"d":"2011-11-01","s":"Simulated","y":8.38},{"d":"2011-11-04","s":"Simulated","y":8.79},{"d":"2011-11-09","s":"Simulated","y":8.64},{"d":"2011-11-14","s":"Simulated","y":8.90},{"d":"2011-11-17","s":"Simulated","y":8.58},{"d":"2011-11-21","s":"Simulated","y":9.10},{"d":"2011-11-25","s":"Simulated","y":9.19},{"d":"2011-11-29","s":"Simulated","y":8.64},{"d":"2011-12-02","s":"Simulated","y":7.85},{"d":"2011-12-06","s":"Simulated","y":8.48},{"d":"2011-12-09","s":"Simulated","y":8.74},{"d":"2011-12-14","s":"Simulated","y":8.64},{"d":"2011-12-20","s":"Simulated","y":8.90},{"d":"2011-12-23","s":"Simulated","y":9.05},{"d":"2011-12-30","s":"Simulated","y":9.16},{"d":"2012-01-05","s":"Simulated","y":9.16},{"d":"2012-01-09","s":"Simulated","y":8.90},{"d":"2012-01-13","s":"Simulated","y":8.64},{"d":"2012-01-17","s":"Simulated","y":8.38},{"d":"2012-01-23","s":"Simulated","y":8.27},{"d":"2012-01-26","s":"Simulated","y":8.11},{"d":"2012-01-30","s":"Simulated","y":7.80},{"d":"2012-02-03","s":"Simulated","y":7.70},{"d":"2012-02-10","s":"Simulated","y":7.75},{"d":"2012-02-14","s":"Simulated","y":7.65},{"d":"2012-02-20","s":"Simulated","y":7.60},{"d":"2012-02-24","s":"Simulated","y":7.44},{"d":"2012-02-29","s":"Simulated","y":7.28},{"d":"2012-03-02","s":"Simulated","y":7.13},{"d":"2012-03-07","s":"Simulated","y":7.02},{"d":"2012-03-14","s":"Simulated","y":6.94},{"d":"2012-03-20","s":"Simulated","y":7.07},{"d":"2012-03-23","s":"Simulated","y":7.18},{"d":"2012-03-30","s":"Simulated","y":7.28},{"d":"2012-04-04","s":"Simulated","y":7.54},{"d":"2012-04-09","s":"Simulated","y":7.75},{"d":"2012-04-12","s":"Simulated","y":7.65},{"d":"2012-04-16","s":"Simulated","y":7.70},{"d":"2012-04-23","s":"Simulated","y":7.83},{"d":"2012-04-30","s":"Simulated","y":7.65},{"d":"2012-05-04","s":"Simulated","y":7.54},{"d":"2012-05-09","s":"Simulated","y":7.70},{"d":"2012-05-14","s":"Simulated","y":7.91},{"d":"2012-05-21","s":"Simulated","y":7.96},{"d":"2012-05-24","s":"Simulated","y":7.80},{"d":"2012-05-28","s":"Simulated","y":8.01},{"d":"2012-06-01","s":"Simulated","y":7.80},{"d":"2012-06-05","s":"Simulated","y":8.11},{"d":"2012-06-11","s":"Simulated","y":8.27},{"d":"2012-06-14","s":"Simulated","y":8.06},{"d":"2012-06-18","s":"Simulated","y":8.11},{"d":"2012-06-22","s":"Simulated","y":7.91},{"d":"2012-06-26","s":"Simulated","y":8.27},{"d":"2012-06-29","s":"Simulated","y":7.80},{"d":"2012-07-04","s":"Simulated","y":8.22},{"d":"2012-07-09","s":"Simulated","y":8.06},{"d":"2012-07-13","s":"Simulated","y":8.27},{"d":"2012-07-17","s":"Simulated","y":8.17},{"d":"2012-07-20","s":"Simulated","y":8.38},{"d":"2012-07-24","s":"Simulated","y":8.71},{"d":"2012-07-27","s":"Simulated","y":8.17},{"d":"2012-07-31","s":"Simulated","y":8.22},{"d":"2012-08-06","s":"Simulated","y":8.06},{"d":"2012-08-09","s":"Simulated","y":7.96},{"d":"2012-08-16","s":"Simulated","y":7.96},{"d":"2012-08-22","s":"Simulated","y":7.85},{"d":"2012-08-28","s":"Simulated","y":7.91},{"d":"2012-08-31","s":"Simulated","y":7.80},{"d":"2012-09-05","s":"Simulated","y":7.33},{"d":"2012-09-07","s":"Simulated","y":7.18},{"d":"2012-09-14","s":"Simulated","y":7.13},{"d":"2012-09-20","s":"Simulated","y":7.18},{"d":"2012-09-24","s":"Simulated","y":7.07},{"d":"2012-10-01","s":"Simulated","y":7.18},{"d":"2012-10-08","s":"Simulated","y":7.13},{"d":"2012-10-12","s":"Simulated","y":7.02},{"d":"2012-10-19","s":"Simulated","y":6.86},{"d":"2012-10-25","s":"Simulated","y":6.97},{"d":"2012-11-01","s":"Simulated","y":7.07},{"d":"2012-11-07","s":"Simulated","y":7.13},{"d":"2012-11-13","s":"Simulated","y":7.07},{"d":"2012-11-20","s":"Simulated","y":6.92},{"d":"2012-11-26","s":"Simulated","y":6.71},{"d":"2012-12-03","s":"Simulated","y":6.55},{"d":"2012-12-07","s":"Simulated","y":6.86},{"d":"2012-12-14","s":"Simulated","y":6.60},{"d":"2012-12-20","s":"Simulated","y":6.50},{"d":"2012-12-27","s":"Simulated","y":6.60},{"d":"2013-01-03","s":"Simulated","y":6.45},{"d":"2013-01-09","s":"Simulated","y":6.29},{"d":"2013-01-15","s":"Simulated","y":6.31},{"d":"2013-01-21","s":"Simulated","y":6.27},{"d":"2013-01-27","s":"Simulated","y":6.34},{"d":"2013-02-01","s":"Simulated","y":6.45}
    ]
  },
  "hconcat": [
    {
      "title": {"text": "yield on two-year BTP", "anchor": "middle", "dx": -20},
      "width": 380,
      "height": 333,
      "data": {"name": "two"},
      "mark": {"type": "line", "strokeWidth": 1.1, "strokeJoin": "round"},
      "encoding": {
        "x": {"field": "d", "type": "temporal",
              "scale": {"type": "utc", "domain": [{"year": 2009, "month": 12, "date": 1, "utc": true}, {"year": 2013, "month": 3, "date": 5, "utc": true}]},
              "axis": {"values": [{"year": 2010, "month": 1, "date": 1, "utc": true}, {"year": 2011, "month": 1, "date": 1, "utc": true}, {"year": 2012, "month": 1, "date": 1, "utc": true}, {"year": 2013, "month": 1, "date": 1, "utc": true}],
                       "labelOffset": -11,
                       "labelExpr": "lower(utcFormat(datum.value, '%d%b%Y'))"}},
        "y": {"field": "y", "type": "quantitative", "scale": {"domain": [-0.2, 10.2], "nice": false, "zero": false}, "axis": {"values": [0, 2, 4, 6, 8, 10]}},
        "color": {"field": "s", "type": "nominal", "scale": {"domain": ["Actual", "Simulated"], "range": ["#2a48a2", "#f02a2a"]},
                  "legend": {"title": null, "orient": "none", "direction": "horizontal", "legendX": 209, "legendY": 372}},
        "strokeDash": {"field": "s", "type": "nominal", "scale": {"domain": ["Actual", "Simulated"], "range": [[1, 0], [7.5, 4.5]]},
                       "legend": {"title": null, "orient": "none", "direction": "horizontal", "legendX": 209, "legendY": 372}}
      }
    },
    {
      "title": {"text": "yield on ten-year BTP", "anchor": "middle", "dx": -24},
      "width": 374,
      "height": 333,
      "data": {"name": "ten"},
      "mark": {"type": "line", "strokeWidth": 1.1, "strokeJoin": "round"},
      "encoding": {
        "x": {"field": "d", "type": "temporal",
              "scale": {"type": "utc", "domain": [{"year": 2009, "month": 12, "date": 1, "utc": true}, {"year": 2013, "month": 2, "date": 15, "utc": true}]},
              "axis": {"values": [{"year": 2010, "month": 1, "date": 1, "utc": true}, {"year": 2011, "month": 1, "date": 1, "utc": true}, {"year": 2012, "month": 1, "date": 1, "utc": true}, {"year": 2013, "month": 1, "date": 1, "utc": true}],
                       "labelOffset": -11,
                       "labelExpr": "lower(utcFormat(datum.value, '%d%b%Y'))"}},
        "y": {"field": "y", "type": "quantitative", "scale": {"domain": [-0.2, 10.2], "nice": false, "zero": false}, "axis": {"values": [0, 2, 4, 6, 8, 10]}},
        "color": {"field": "s", "type": "nominal", "scale": {"domain": ["Actual", "Simulated"], "range": ["#2a48a2", "#f02a2a"]},
                  "legend": {"title": null, "orient": "none", "direction": "horizontal", "legendX": 209, "legendY": 372}},
        "strokeDash": {"field": "s", "type": "nominal", "scale": {"domain": ["Actual", "Simulated"], "range": [[1, 0], [7.5, 4.5]]},
                       "legend": {"title": null, "orient": "none", "direction": "horizontal", "legendX": 209, "legendY": 372}}
      }
    }
  ]
}
